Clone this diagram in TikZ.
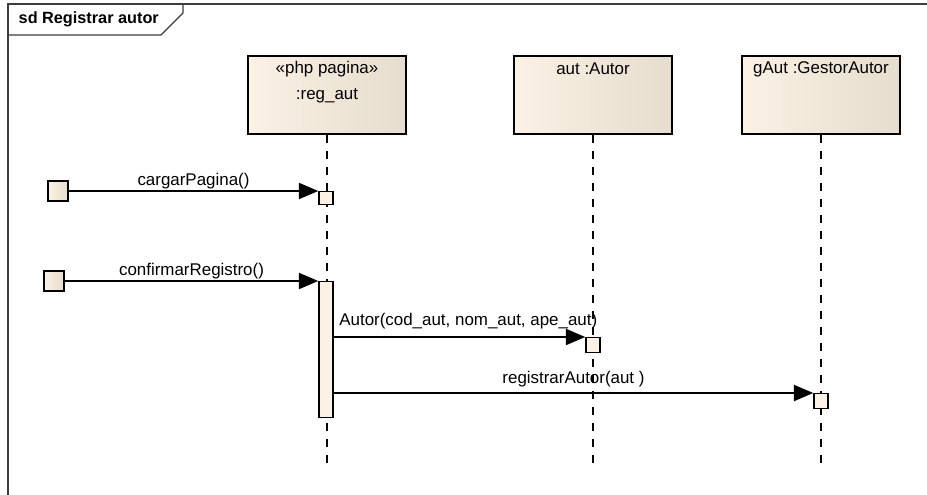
\documentclass[tikz,border=0pt]{standalone}
\usepackage{fontspec}
\setmainfont{Liberation Sans}
\usetikzlibrary{arrows.meta, positioning, calc}
\definecolor{lifefill}{RGB}{251,241,228}
\definecolor{lifeshade}{RGB}{230,221,206}
\definecolor{framegray}{RGB}{60,60,60}

\begin{document}
\begin{tikzpicture}[x=0.75pt, y=-0.75pt,
    font=\fontsize{12.7}{14}\selectfont,
    lifebox/.style={rectangle, draw=black, line width=1.5pt, left color=lifefill,
      right color=lifeshade, minimum width=119pt, minimum height=58.5pt, anchor=north},
    lifeline/.style={line width=1.5pt, dash pattern=on 6pt off 6pt},
    actbox/.style={rectangle, draw=black, line width=1.1pt, fill=lifefill,
      minimum width=10.5pt, inner sep=0pt, anchor=north},
    gatebox/.style={rectangle, draw=black, line width=1.1pt, left color=lifefill,
      right color=lifeshade, minimum size=15pt, inner sep=0pt},
    msg/.style={line width=1.5pt, -{Triangle[length=14.5pt, width=12pt]}},
    msglabel/.style={inner sep=1pt}]

  \useasboundingbox (0,0) rectangle (927,495);

  % frame and title tab
  \draw[framegray, line width=1pt] (927,4) -- (8,4) -- (8,495);
  \draw[framegray, line width=1pt] (8,35) -- (161,35) -- (183,13) -- (183,4);
  \node[anchor=west, font=\fontsize{12.2}{14}\selectfont\bfseries] (title) at (14,19) {sd Registrar autor};

  % lifeline heads
  \node[lifebox] (reg) at (327,55) {};
  \node[lifebox] (aut) at (593,55) {};
  \node[lifebox] (gaut) at (821,55) {};
  \node (regster) at (327,69) {«php pagina»};
  \node (regname) at (327,96) {:reg\_aut};
  \node (autname) at (593,69) {aut :Autor};
  \node (gautname) at (821,69) {gAut :GestorAutor};

  % lifelines
  \coordinate (regend) at (327,466);
  \coordinate (autend) at (593,466);
  \coordinate (gautend) at (821,466);
  \draw[lifeline] (reg.south) -- (regend);
  \draw[lifeline] (aut.south) -- (autend);
  \draw[lifeline] (gaut.south) -- (gautend);

  % activations
  \node[actbox, minimum height=9.75pt] (act1) at (326,191) {};
  \node[actbox, minimum height=102pt] (act2) at (326,281) {};
  \node[actbox, minimum height=11.25pt] (act3) at (593,337) {};
  \node[actbox, minimum height=11.25pt] (act4) at (821,393) {};

  % found messages
  \node[gatebox] (gate1) at (58,191) {};
  \node[gatebox] (gate2) at (54,281) {};

  \draw[msg] (gate1.east) -- (act1.north west)
    node[msglabel, midway, above] (lbl1) {cargarPagina()};
  \draw[msg] (gate2.east) -- (act2.north west)
    node[msglabel, midway, above] (lbl2) {confirmarRegistro()};
  \draw[msg] (act2.east |- act3.north) -- (act3.north west);
  \node[msglabel, anchor=south west] (lbl3) at ($(act2.east |- act3.north)+(4,-6)$) {Autor(cod\_aut, nom\_aut, ape\_aut)};
  \draw[msg] (act2.east |- act4.north) -- (act4.north west)
    node[msglabel, pos=0.5, above=3pt] (lbl4) {registrarAutor(aut )};
\end{tikzpicture}
\end{document}
